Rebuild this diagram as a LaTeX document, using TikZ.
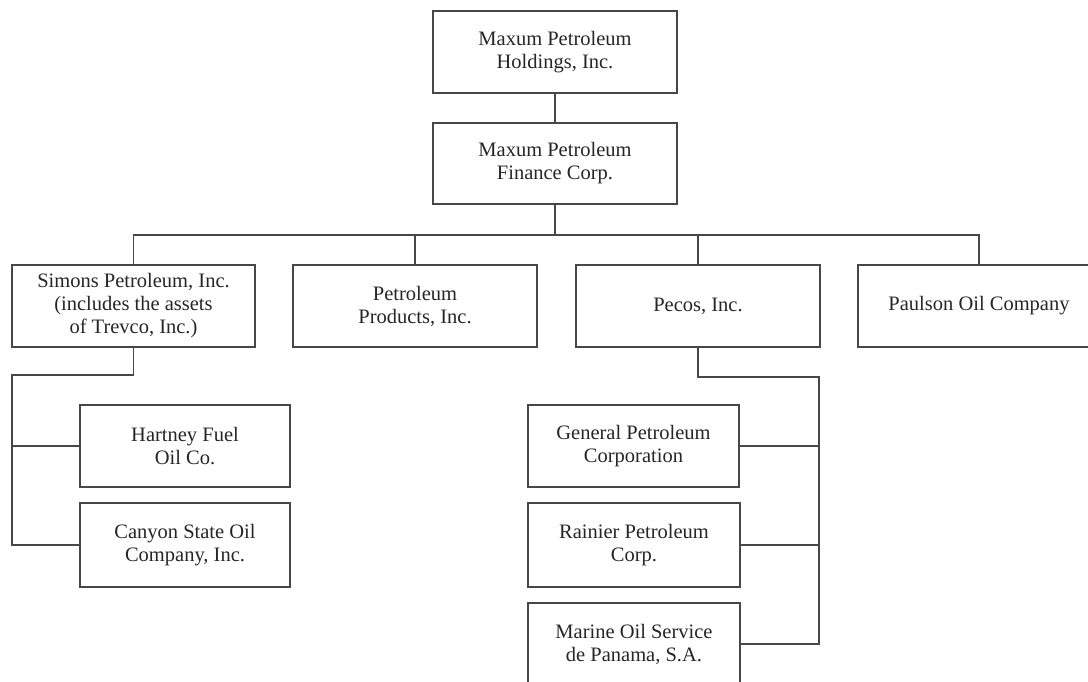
\documentclass[tikz,border=0pt]{standalone}
\usepackage{fontspec}
\setmainfont{Liberation Serif}
\begin{document}
\begin{tikzpicture}[x=1pt,y=-1pt,
  ln/.style={draw=black!72,line width=1.4pt},
  orgbox/.style={ln,rectangle,inner sep=0pt,outer sep=0pt,align=center,
    font=\fontsize{20.5}{23}\selectfont,text=black!85}]
\useasboundingbox (0,0) rectangle (1088,681);
\clip (0,0) rectangle (1088,681);
\node[orgbox,minimum width=244,minimum height=82] (hold) at (555,52) {Maxum Petroleum\\Holdings, Inc.};
\node[orgbox,minimum width=244,minimum height=81] (fin) at (555,163.5) {Maxum Petroleum\\Finance Corp.};
\node[orgbox,minimum width=243,minimum height=82] (sim) at (133.5,306) {Simons Petroleum, Inc.\\(includes the assets\\of Trevco, Inc.)};
\node[orgbox,minimum width=244,minimum height=82] (pp) at (415,306) {Petroleum\\Products, Inc.};
\node[orgbox,minimum width=244,minimum height=82] (pec) at (698,306) {Pecos, Inc.};
\node[orgbox,minimum width=242,minimum height=82] (pau) at (979,306) {Paulson Oil Company};
\node[orgbox,minimum width=210,minimum height=82] (har) at (185,446) {Hartney Fuel\\Oil Co.};
\node[orgbox,minimum width=210,minimum height=84] (can) at (185,545) {Canyon State Oil\\Company, Inc.};
\node[orgbox,minimum width=211,minimum height=82] (gen) at (633.5,446) {General Petroleum\\Corporation};
\node[orgbox,minimum width=212,minimum height=84] (rai) at (634,545) {Rainier Petroleum\\Corp.};
\node[orgbox,minimum width=212,minimum height=82] (mar) at (634,644) {Marine Oil Service\\de Panama, S.A.};
\coordinate (bus) at (0,235);
\coordinate (sl1) at (12,375);
\coordinate (sl2) at (12,545);
\coordinate (pr1) at (819,377);
\coordinate (pr2) at (819,644);
\draw[ln] (hold.south) -- (fin.north);
\draw[ln] (fin.south) -- (fin.south |- bus);
\draw[ln] (sim.north) |- (bus -| pau.north) -- (pau.north);
\draw[ln] (pp.north) -- (pp.north |- bus);
\draw[ln] (pec.north) -- (pec.north |- bus);
\draw[ln] (sim.south) |- (sl1) -- (sl2) -- (can.west);
\draw[ln] (har.west) -- (har.west -| sl1);
\draw[ln] (pec.south) |- (pr1) -- (pr2) -- (mar.east);
\draw[ln] (gen.east) -- (gen.east -| pr1);
\draw[ln] (rai.east) -- (rai.east -| pr1);
\end{tikzpicture}
\end{document}
